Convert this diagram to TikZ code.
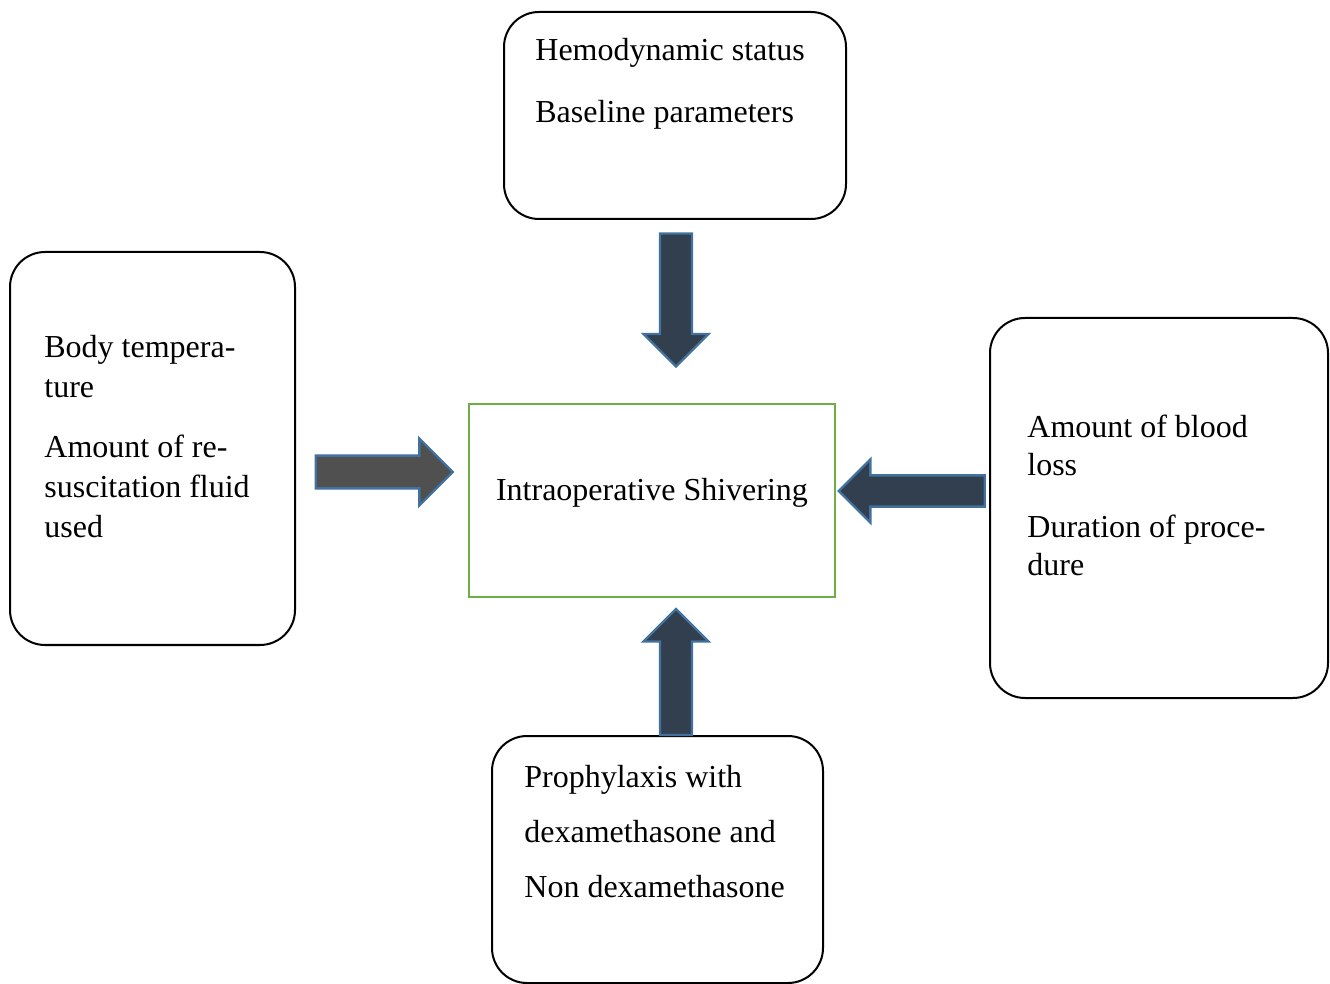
\documentclass[tikz,border=0pt]{standalone}
\usepackage{fontspec}
\setmainfont{Liberation Serif}
\usetikzlibrary{shapes.arrows,positioning}
\definecolor{shivergreen}{HTML}{70AD47}
\definecolor{arrowedge}{HTML}{41719C}
\definecolor{arrownavy}{HTML}{323F4F}
\definecolor{arrowgray}{HTML}{505050}
\tikzset{
  factor/.style={draw,line width=1pt,rounded corners=17.5pt,inner sep=0pt,anchor=north west},
  factortext/.style={anchor=north west,inner sep=0pt,align=left,font=\fontsize{16}{20}\selectfont},
  blockarrow/.style={single arrow,draw=arrowedge,fill=arrownavy,line width=1.2pt,
    single arrow tip angle=90},
}
\begin{document}
\begin{tikzpicture}[x=0.5pt,y=-0.5pt]
  \useasboundingbox (0,0) rectangle (1330,984);
  % outer boxes
  \node(hemo)[factor,minimum width=171pt,minimum height=103.5pt] at (503,11){};
  \node(temp)[factor,minimum width=142.5pt,minimum height=196.5pt] at (9,251){};
  \node(blood)[factor,minimum width=169pt,minimum height=190pt] at (989,317){};
  \node(proph)[factor,minimum width=165.5pt,minimum height=123.5pt] at (491,735){};
  % centre
  \node(shiver)[draw=shivergreen,line width=1pt,minimum width=183pt,minimum height=96.5pt,
    text height=8pt,text depth=8pt,font=\fontsize{16}{20}\selectfont] at (652,500.5)
    {Intraoperative Shivering};
  % texts
  \node(hemotext)[factortext] at (535,38){Hemodynamic status\\[11pt]Baseline parameters};
  \node(temptext)[factortext] at (44,335){Body tempera-\\ture\\[10pt]Amount of re-\\suscitation fluid\\used};
  \node(bloodtext)[factortext,font=\fontsize{16}{19}\selectfont] at (1027,415)
    {Amount of blood\\loss\\[12pt]Duration of proce-\\dure};
  \node(prophtext)[factortext] at (524,765)
    {Prophylaxis with\\[7.5pt]dexamethasone and\\[7.5pt]Non dexamethasone};
  % arrows
  \node(hemoarrow)[blockarrow,shape border rotate=270,inner sep=7.4pt,minimum height=66.5pt,
    single arrow head extend=8.25pt] at (676,292){};
  \node(temparrow)[blockarrow,fill=arrowgray,inner sep=7.6pt,minimum height=68.5pt,
    single arrow head extend=8.5pt] at (376,472){};
  \node(bloodarrow)[blockarrow,shape border rotate=180,inner sep=7.2pt,minimum height=73pt,
    single arrow head extend=8pt] at (919.5,491){};
  \node(propharrow)[blockarrow,shape border rotate=90,inner sep=7.4pt,minimum height=63pt,
    single arrow head extend=8.25pt] at (676,680){};
\end{tikzpicture}
\end{document}
